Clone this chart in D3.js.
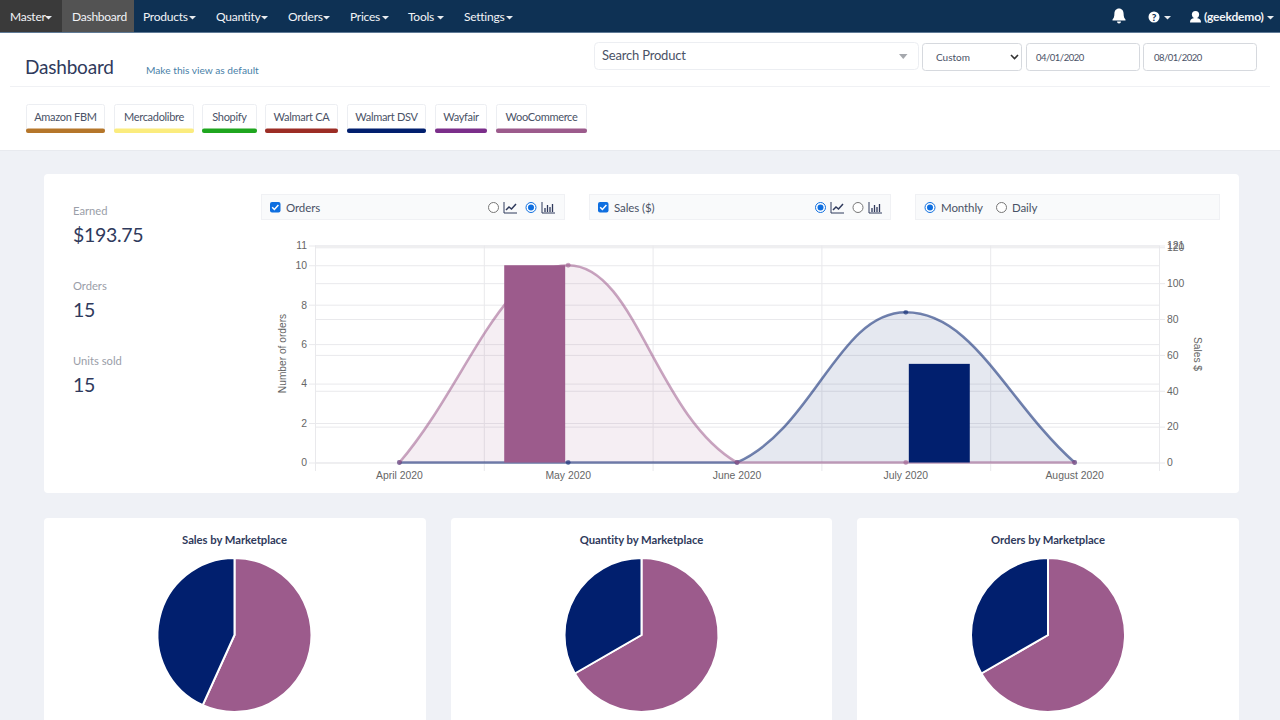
<!DOCTYPE html>
<html>
<head>
<meta charset="utf-8">
<script src="https://cdn.jsdelivr.net/npm/d3@7"></script>
<style>
  html, body { margin: 0; padding: 0; background: #eff1f6; overflow: hidden; }
  svg { display: block; }
  text { font-family: "Lato", sans-serif; }
  .axis text { font-family: "Liberation Sans", sans-serif; font-size: 10.4px; fill: #666; }
  .axis path.domain { display: none; }
</style>
</head>
<body>
<script>
// chart values
var months = ["April 2020", "May 2020", "June 2020", "July 2020", "August 2020"];
var wooOrders = [0, 10, 0, 0, 0];
var walmartOrders = [0, 0, 0, 5, 0];
var wooSales = [0, 110, 0, 0, 0];
var walmartSales = [0, 0, 0, 83.75, 0];
var orderTicks = [0, 2, 4, 6, 8, 10, 11];
var salesTicks = [0, 20, 40, 60, 80, 100, 120, 121];

var marketplaces = ["Amazon FBM", "Mercadolibre", "Shopify", "Walmart CA", "Walmart DSV", "Wayfair", "WooCommerce"];
var marketColors = ["#b5762a", "#fbec7e", "#1fa61f", "#9c2d25", "#011f6e", "#7b2e8a", "#9c5b8c"];

var pieTitles = ["Sales by Marketplace", "Quantity by Marketplace", "Orders by Marketplace"];
var pieSales = [110, 83.75];
var pieQuantity = [10, 5];
var pieOrders = [10, 5];

var menuLeft = ["Master", "Dashboard", "Products", "Quantity", "Orders", "Prices", "Tools", "Settings"];
var stats = [["Earned", "$193.75"], ["Orders", "15"], ["Units sold", "15"]];

var woo = "#9c5b8c", dsv = "#011f6e", ink = "#2f3a5c", body = "#4a5266";

var svg = d3.select("body").append("svg").attr("width", 1280).attr("height", 720);

// lato runs wider than the original face, so most labels get a little negative tracking
function label(parent, x, y, str, size, color, anchor, weight, track) {
  return parent.append("text").attr("x", x).attr("y", y).text(str)
    .attr("font-size", size).attr("fill", color)
    .attr("text-anchor", anchor || "start").attr("font-weight", weight || 400)
    .attr("letter-spacing", track || 0);
}
function box(parent, x, y, w, h, fill, stroke, r) {
  return parent.append("rect").attr("x", x).attr("y", y).attr("width", w).attr("height", h)
    .attr("fill", fill).attr("stroke", stroke || "none").attr("rx", r || 0);
}
function caret(parent, x, y, color) {
  parent.append("path").attr("d", "M" + x + "," + y + "h7l-3.5,3.5z").attr("fill", color);
}

// page bands
box(svg, 0, 0, 1280, 150, "#fff");
svg.append("line").attr("x1", 10).attr("x2", 1270).attr("y1", 86.5).attr("y2", 86.5).attr("stroke", "#f0f1f4");
svg.append("line").attr("x1", 0).attr("x2", 1280).attr("y1", 150.5).attr("y2", 150.5).attr("stroke", "#e8eaef");

// navbar
var nav = svg.append("g");
box(nav, 0, 0, 1280, 32, "#0e3154");
box(nav, 0, 32, 1280, 1, "#5f7a96");
box(nav, 0, 0, 62, 32, "#3a3a3a");
box(nav, 62, 0, 72, 32, "#535353");
var menuX = [10, 72, 143, 216, 288, 350, 408, 464];
var caretX = [45, null, 189, 261, 323, 382, 437, 506];
menuLeft.forEach(function(m, i) {
  label(nav, menuX[i], 21, m, 12, "#f2f4f7", "start", 400, -.25);
  if (caretX[i]) caret(nav, caretX[i], 16, "#e8ebef");
});
// bell, help, user
nav.append("path").attr("fill", "#fff")
  .attr("d", "M1119,8.5c-3,0-4.6,2.4-4.6,5.2c0,3.2-.8,4.6-1.9,5.8v1h13v-1c-1.1-1.2-1.9-2.6-1.9-5.8c0-2.8-1.6-5.2-4.6-5.2zM1117,21.5a2,2 0 0 0 4,0z");
nav.append("circle").attr("cx", 1154).attr("cy", 17).attr("r", 5.5).attr("fill", "#fff");
label(nav, 1154, 20.5, "?", 10, "#0e3154", "middle", 900);
caret(nav, 1164, 16, "#e8ebef");
nav.append("circle").attr("cx", 1195.5).attr("cy", 14.5).attr("r", 3.6).attr("fill", "#fff");
nav.append("path").attr("d", "M1190,22.5c0-3.5,2.5-4.5,5.5-4.5s5.5,1,5.5,4.5z").attr("fill", "#fff");
label(nav, 1204, 21, "(geekdemo)", 12, "#f2f4f7", "start", 700, -.2);
caret(nav, 1267, 16, "#e8ebef");

// page title row
label(svg, 25, 74, "Dashboard", 19, ink, "start", 400, -.2);
label(svg, 146, 74, "Make this view as default", 10.2, "#4a7fa8");

// filter inputs
box(svg, 594.5, 42.5, 324, 27, "#fff", "#eceef2", 4);
label(svg, 602, 60, "Search Product", 13, body, "start", 400, -.2);
svg.append("path").attr("d", "M899,54h8.5l-4.25,5z").attr("fill", "#a5a8ad");
box(svg, 922.5, 43.5, 99, 27, "#fff", "#d6d9de", 3);
label(svg, 936, 61, "Custom", 10, body);
svg.append("path").attr("d", "M1011,55l3.5,3.5l3.5,-3.5").attr("fill", "none").attr("stroke", "#333").attr("stroke-width", 1.6);
box(svg, 1026.5, 43.5, 113, 27, "#fff", "#d6d9de", 3);
label(svg, 1036, 61, "04/01/2020", 9.5, body, "start", 400, -.5);
box(svg, 1143.5, 43.5, 113, 27, "#fff", "#d6d9de", 3);
label(svg, 1154, 61, "08/01/2020", 9.5, body, "start", 400, -.5);

// marketplace chips
var chipEdges = [[26, 105], [114, 194], [202, 257], [265, 338], [347, 426], [435, 487], [496, 587]];
marketplaces.forEach(function(m, i) {
  var x0 = chipEdges[i][0], x1 = chipEdges[i][1];
  box(svg, x0 + .5, 104.5, x1 - x0 - 1, 28, "#fff", "#eceef2", 2);
  box(svg, x0, 128.5, x1 - x0, 4.5, marketColors[i], null, 2);
  label(svg, (x0 + x1) / 2, 121, m, 11, body, "middle", 400, -.3);
});

// cards
box(svg, 44, 174, 1195, 319, "#fff", null, 4);
var pieCards = [[44, 382], [451, 381], [857, 382]];
pieCards.forEach(function(c) { box(svg, c[0], 518, c[1], 220, "#fff", null, 4); });

// stats column
stats.forEach(function(s, i) {
  label(svg, 73, 214.5 + i * 75, s[0], 11.2, "#9a9ea8");
  label(svg, 73, 241.5 + i * 75, s[1], 19.5, ink, "start", 400, -.3);
});

// control strips
function strip(x, w) { box(svg, x + .5, 194.5, w, 25, "#f9fafb", "#f0f1f4"); }
function checkbox(x) {
  box(svg, x, 202, 10.5, 10.5, "#0f6fe0", null, 2);
  svg.append("path").attr("d", "M" + (x + 2.2) + ",207.2l2.2,2.3l4,-4.4").attr("fill", "none")
    .attr("stroke", "#fff").attr("stroke-width", 1.5);
}
function radio(x, on) {
  svg.append("circle").attr("cx", x).attr("cy", 207.5).attr("r", 5)
    .attr("fill", "#fff").attr("stroke", on ? "#0f6fe0" : "#777").attr("stroke-width", 1);
  if (on) svg.append("circle").attr("cx", x).attr("cy", 207.5).attr("r", 3).attr("fill", "#0f6fe0");
}
function lineIcon(x) {
  svg.append("path").attr("fill", "none").attr("stroke", ink).attr("stroke-width", 1)
    .attr("d", "M" + x + ",202v11h13");
  svg.append("path").attr("fill", "none").attr("stroke", ink).attr("stroke-width", 1.5)
    .attr("d", "M" + (x + 2) + ",210l3,-3l2.5,2l4.5,-5");
}
function barIcon(x) {
  svg.append("path").attr("fill", "none").attr("stroke", ink).attr("stroke-width", 1)
    .attr("d", "M" + x + ",202v11h13");
  svg.append("path").attr("fill", "none").attr("stroke", ink).attr("stroke-width", 1.3)
    .attr("d", "M" + (x + 3) + ",212v-4M" + (x + 5.5) + ",212v-7M" + (x + 8) + ",212v-5M" + (x + 10.5) + ",212v-8");
}
strip(261, 303);
checkbox(270);
label(svg, 286, 211.5, "Orders", 11.5, body, "start", 400, -.1);
radio(493.5, false); lineIcon(504); radio(531, true); barIcon(542);
strip(589, 301);
checkbox(598);
label(svg, 614, 211.5, "Sales ($)", 11.5, body, "start", 400, -.1);
radio(820.5, true); lineIcon(831); radio(858, false); barIcon(869);
strip(915, 304);
radio(930, true);
label(svg, 941, 211.5, "Monthly", 11.5, body, "start", 400, -.1);
radio(1001.5, false);
label(svg, 1012, 211.5, "Daily", 11.5, body, "start", 400, -.1);

// main chart scales
var plotL = 315, plotR = 1159, plotB = 462.5, plotT = 245.5;
var x = d3.scaleBand().domain(months).range([plotL, plotR]);
var yOrders = d3.scaleLinear().domain([0, 11]).range([plotB, plotT]);
var ySales = d3.scaleLinear().domain([0, 121]).range([plotB, plotT]);
var barSeries = ["woo", "dsv"];
var barOffset = d3.scaleBand().domain(barSeries).range([-67, 67]).paddingInner(.09).paddingOuter(.045);
function mid(m) { return x(m) + x.bandwidth() / 2; }

// grid + axes
var gridColor = "#e9e9ec";
svg.append("g").selectAll("line").data(months.concat([null])).enter().append("line")
  .attr("x1", function(d) { return d ? x(d) + .5 : plotR + .5; })
  .attr("x2", function(d) { return d ? x(d) + .5 : plotR + .5; })
  .attr("y1", plotT).attr("y2", plotB + 8.5)
  .attr("stroke", gridColor);

var leftAxis = svg.append("g").attr("class", "axis").attr("transform", "translate(" + plotL + ",0)")
  .call(d3.axisLeft(yOrders).tickValues(orderTicks).tickFormat(d3.format("d")).tickPadding(2));
leftAxis.selectAll("line").attr("x1", -6).attr("x2", plotR - plotL).attr("stroke", gridColor);

var rightAxis = svg.append("g").attr("class", "axis").attr("transform", "translate(" + plotR + ",0)")
  .call(d3.axisRight(ySales).tickValues(salesTicks).tickFormat(d3.format("d")).tickPadding(2));
rightAxis.selectAll("line").attr("x1", plotL - plotR).attr("x2", 6).attr("stroke", gridColor);

svg.append("g").attr("class", "axis").attr("transform", "translate(0," + plotB + ")")
  .call(d3.axisBottom(x).tickSize(0).tickPadding(9));

svg.append("text").attr("transform", "translate(285.5,353.5) rotate(-90)")
  .attr("text-anchor", "middle").style("font-family", "Liberation Sans").attr("font-size", 10.2).attr("fill", "#666").text("Number of orders");
svg.append("text").attr("transform", "translate(1193.5,354) rotate(90)")
  .attr("text-anchor", "middle").style("font-family", "Liberation Sans").attr("font-size", 10.2).attr("fill", "#666").text("Sales $");

// spline the way chart.js does it (tension .4, control points capped to the plot)
function chartSpline(context) {
  var pts;
  return {
    lineStart: function() { pts = []; },
    lineEnd: function() {
      function cap(v, lo, hi) { return Math.max(lo, Math.min(hi, v)); }
      var ctrl = pts.map(function(p, i) {
        var a = pts[i - 1] || p, b = pts[i + 1] || p;
        var d1 = Math.hypot(p[0] - a[0], p[1] - a[1]), d2 = Math.hypot(b[0] - p[0], b[1] - p[1]);
        var s = d1 + d2 || 1;
        var dx = b[0] - a[0], dy = b[1] - a[1];
        return [
          [p[0] - .4 * d1 / s * dx, cap(p[1] - .4 * d1 / s * dy, plotT, plotB)],
          [p[0] + .4 * d2 / s * dx, cap(p[1] + .4 * d2 / s * dy, plotT, plotB)]
        ];
      });
      context.moveTo(pts[0][0], pts[0][1]);
      for (var i = 1; i < pts.length; i++) {
        context.bezierCurveTo(ctrl[i - 1][1][0], ctrl[i - 1][1][1], ctrl[i][0][0], ctrl[i][0][1], pts[i][0], pts[i][1]);
      }
    },
    areaStart: function() {},
    areaEnd: function() {},
    point: function(px, py) { pts.push([px, py]); }
  };
}

var line = d3.line()
  .x(function(d) { return mid(d.month); })
  .y(function(d) { return ySales(d.value); })
  .curve(chartSpline);

function salesRows(values) {
  return months.map(function(m, i) { return { month: m, value: values[i] }; });
}
function drawSales(values, rgb) {
  var rows = salesRows(values);
  var d = line(rows);
  svg.append("path").attr("d", d + "L" + mid(months[4]) + "," + plotB + "L" + mid(months[0]) + "," + plotB + "Z")
    .attr("fill", "rgba(" + rgb + ",.1)").attr("stroke", "none");
  svg.append("path").attr("d", d).attr("fill", "none")
    .attr("stroke", "rgba(" + rgb + ",.55)").attr("stroke-width", 2.6);
  svg.append("g").selectAll("circle").data(rows).enter().append("circle")
    .attr("cx", function(r) { return mid(r.month); })
    .attr("cy", function(r) { return ySales(r.value); })
    .attr("r", 2.4).attr("fill", "rgba(" + rgb + ",.55)");
}
drawSales(walmartSales, "1,31,110");
drawSales(wooSales, "156,91,140");

// order bars
function drawBars(values, key, color) {
  svg.append("g").selectAll("rect").data(values).enter().append("rect")
    .attr("x", function(d, i) { return mid(months[i]) + barOffset(key); })
    .attr("width", barOffset.bandwidth())
    .attr("y", function(d) { return yOrders(d); })
    .attr("height", function(d) { return plotB - yOrders(d); })
    .attr("fill", color);
}
drawBars(wooOrders, "woo", woo);
drawBars(walmartOrders, "dsv", dsv);

// pies
var pie = d3.pie().sort(null);
var arc = d3.arc().innerRadius(0).outerRadius(77);
var pieColors = [woo, dsv];
[pieSales, pieQuantity, pieOrders].forEach(function(values, i) {
  var cx = [234.5, 641.5, 1048][i];
  label(svg, cx, 544, pieTitles[i], 11.3, ink, "middle", 700, -.05);
  svg.append("g").attr("transform", "translate(" + cx + ",635)")
    .selectAll("path").data(pie(values)).enter().append("path")
    .attr("d", arc)
    .attr("fill", function(d, j) { return pieColors[j]; })
    .attr("stroke", "#fff").attr("stroke-width", 2);
});
</script>
</body>
</html>
